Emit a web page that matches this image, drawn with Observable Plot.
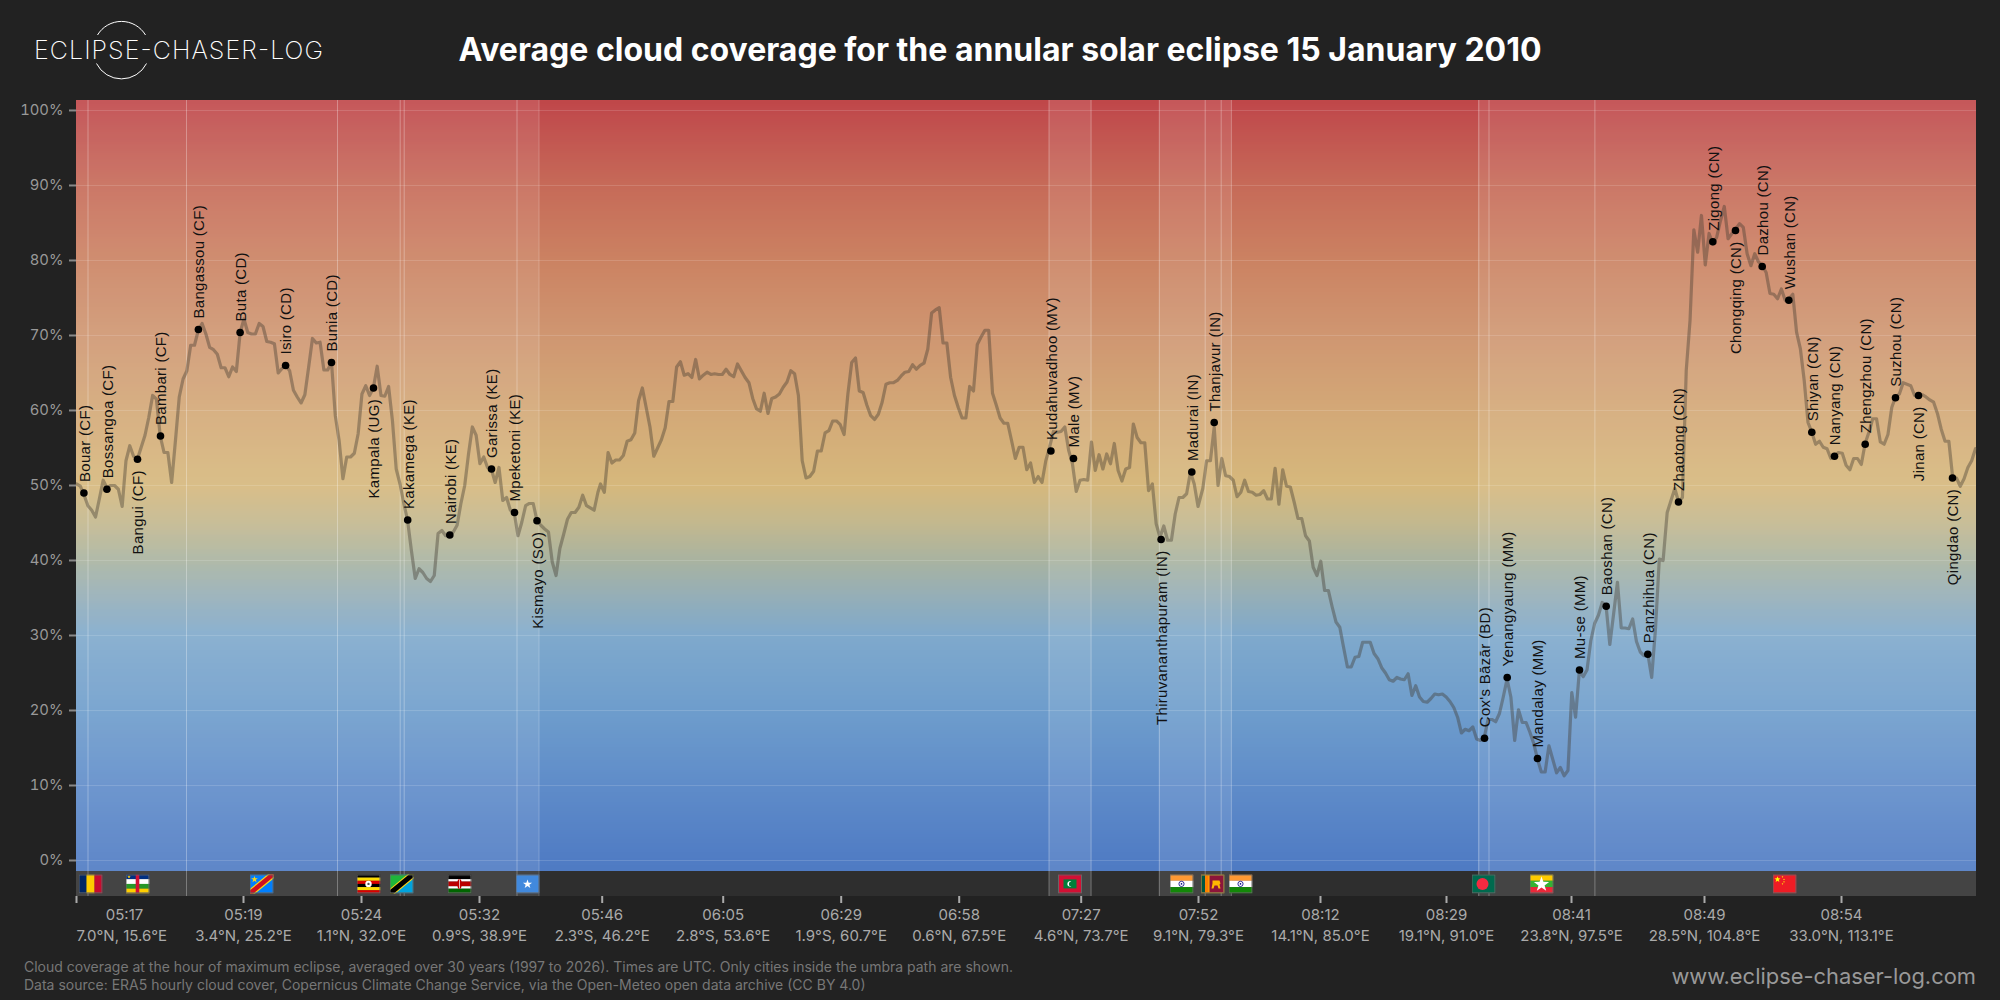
<!DOCTYPE html>
<html><head><meta charset="utf-8">
<script src="https://cdn.jsdelivr.net/npm/d3@7"></script>
<script src="https://cdn.jsdelivr.net/npm/@observablehq/plot@0.6"></script>
<style>
html,body{margin:0;background:#222;}
#page{position:relative;width:2000px;height:1000px;overflow:hidden;background:#222;font-family:Inter,sans-serif;}
#title{position:absolute;left:0;width:2000px;top:30px;text-align:center;color:#fff;font-weight:700;font-size:32px;line-height:40px;}
#logo{position:absolute;left:0;top:0;}
#chart{position:absolute;left:0;top:100px;}
#chart g[font-family="Liberation Sans"] text{letter-spacing:.3px;}
#note{position:absolute;left:24px;top:958px;color:#777;font-size:14px;line-height:18.3px;}
#site{position:absolute;right:24px;top:961px;color:#999;font-size:21.9px;line-height:30px;}
</style></head><body>
<div id="page">
<svg id="logo" width="400" height="100">
<path d="M97.5 35 A28 28 0 0 1 145.5 35 M96.5 63.5 A28 28 0 0 0 146.5 63.5" fill="none" stroke="#fff" stroke-width="1"/>
<text x="34" y="59" fill="#fff" font-family="Inter" font-weight="200" font-size="25" textLength="289">ECLIPSE-CHASER-LOG</text>
</svg>
<div id="title">Average cloud coverage for the annular solar eclipse 15 January 2010</div>
<div id="chart"></div>
<div id="note">Cloud coverage at the hour of maximum eclipse, averaged over 30 years (1997 to 2026). Times are UTC. Only cities inside the umbra path are shown.<br>Data source: ERA5 hourly cloud cover, Copernicus Climate Change Service, via the Open-Meteo open data archive (CC BY 4.0)</div>
<div id="site">www.eclipse-chaser-log.com</div>
</div>
<script>
// Cloud cover (%) sampled along the path; path position runs 0..1900.
const sampleStep = 3.806;
const cloudAfrica = [50.2,49.9,48.7,47.3,46.7,45.8,48.2,50.7,49.7,50.0,
50.0,49.5,47.2,53.3,55.3,53.9,53.5,55.1,56.7,59.1,
62.0,61.5,56.6,54.4,54.4,50.4,56,61.8,64.2,65.3,
68.7,68.7,70.7,71.6,70.2,68.4,68.1,67.5,65.7,65.7,
64.5,65.8,65.2,70.4,72.2,70.4,70.2,70.2,71.6,71.2,
69.2,69.1,68.9,65,65.6,66,65.3,62.7,61.8,61,
62.1,65.8,69.6,69,69.1,65.4,65.4,66.4,59.3,56,
50.9,53.8,53.8,54.3,56.9,62.2,63.3,62,63,65.9,
62,61.9,63.2,58.7,52.2,50.2,47.6,45.3,41.3,37.6,
38.9,38.4,37.6,37.2,38,43.6,44,43.3,43.4,43.8,
44.7,47.6,50,54.2,57.8,56.7,52.9,53.8,52.4,52.2,
50.4,52.4,48,48.4,46.7,46.4,43.3,45.1,47.3,47.6,
47.6,45.3,44.7,44.2,43.8,39.8,38,41.6,43.5,45.5,
46.4,46.4,47.1,48.7,47.3,47,46.7,49.1];
const cloudOcean = [50.2,49.1,54.4,53,53.4,53.4,54,55.9,56.1,57,61.3,63,60.4,57.8,53.9,55,56.1,57.7,61.2,61.2,
65.8,66.5,64.7,64.9,64.4,66.8,64.2,64.7,65.1,64.8,64.9,64.8,64.8,65.5,64.8,64.5,66.2,65.3,64.4,63.7,
61.6,60.2,59.9,62.3,59.6,61.6,61.8,62.2,63.1,63.8,65.3,64.9,62,53.3,51,51.2,51.9,54.6,54.6,57,
57.3,58.6,58.6,58.1,56.8,62.2,66.4,67,62.6,62.4,60.7,59.3,58.8,59.5,61.1,63.5,63.7,63.7,64,64.6,
65.1,65.2,66.1,65.5,66,66.3,68.2,73,73.4,73.7,69,69,64.4,62,60.4,59,59,63.2,62.6,68.8,
69.8,70.7,70.7,62.3,60.7,59,58.3,58.3,56,53.6,55.1,55.1,52.1,53,50.4,51.2,50.4,53.3,55.1,57.2,
57.1,57.2,57.8,54.7,52.9,49.2,50.7,50.8,50.7,55.8,52,54.1,52.2,54.2,52.9,55.6,52,50.6,52.2,52.4,
58.2,56.4,55.7,55.7,49.3,50.2,44.9,43.1,44.6,42.7,42.7,46.2,48.4,48.4,48.9,51.8,50.2,47.2];
const cloudIndia = [49.6,53.3,53.3,57.8,50,53.6,51.3,51.2,50.7,48.5,49.1,50.7,49.2,49.1,48.7,48.8,49.3,48.2,48.2,52.3,
47.5,52.1,49.9,49.8,47.8,45.6,45.6,43.3,42.6,39.1,38,39.9,36,36,33.8];
const cloudBay = [31.8,31.1,28.4,25.8,25.8,27.1,27.2,29.1,29.1,29.1,27.6,26.9,25.7,25,24.1,23.9,24.4];
const cloudMyanmar = [24.2,24.1,24.9,22,23.3,21.8,21.2,21.1,21.6,22.2,22.1,22.2,21.8,21.2,20.4,19.1,17,17.5,17.3,17.8,
16.2,16,16.4,18.8,18.8,18.5,19.6,21.8,24.2,21.8,16,20.1,18.4,18.4,17.1,15.6,13.5,11.8,11.8,15.3,
13.5,11.7,12.4,11.3,12,22.4,19.1,25.3,24.5,25.4,29.3,31.6,32.7,34.4,34,28.8,32.9,37.1,31,31,
30.9,32.2,29.2,27.8,27.3,27.5,24.4,30.9,40.2,40];
const cloudChina = [46.4,48,49.6,47.8,48.4,65.3,72,84.1,81.1,86,79.4,83.6,82.2,83.1,85.3,87.2,82.9,83.6,84.2,84.9,
84.4,80.9,79.3,80.9,79.8,79.3,78.4,75.6,75.5,74.9,76.2,74.7,74.9,75.5,70.4,68.2,64,58.4,57.1,55.5,
55.9,55.1,54.9,53.6,53.9,54.4,54.3,52.7,52.1,53.6,53.6,52.8,55.6,57.1,58.9,58.9,55.8,55.5,56.8,60.4,
61.8,62.2,63.7,63.5,63.3,62,62.1,62.1,61.8,61.4,61.1,59.6,57.5,55.9,55.9,51.1,51,49.9,50.9,52.4,53.3,54.9];
const sectionStarts = [0,524,1126.3,1259.5,1324,1590.7];
const sections = [cloudAfrica,cloudOcean,cloudIndia,cloudBay,cloudMyanmar,cloudChina];

const cityNames = ["Bouar (CF)","Bossangoa (CF)","Bangui (CF)","Bambari (CF)","Bangassou (CF)","Buta (CD)","Isiro (CD)","Bunia (CD)","Kampala (UG)","Kakamega (KE)","Nairobi (KE)","Garissa (KE)","Mpeketoni (KE)","Kismayo (SO)","Kudahuvadhoo (MV)","Male (MV)","Thiruvananthapuram (IN)","Madurai (IN)","Thanjavur (IN)","Cox's Bāzār (BD)","Yenangyaung (MM)","Mandalay (MM)","Mu-se (MM)","Baoshan (CN)","Panzhihua (CN)","Zhaotong (CN)","Zigong (CN)","Chongqing (CN)","Dazhou (CN)","Wushan (CN)","Shiyan (CN)","Nanyang (CN)","Zhengzhou (CN)","Suzhou (CN)","Jinan (CN)","Qingdao (CN)"];
const cityPos = [7.4,30.4,61,84,121.9,163.6,209.1,255,297,331.2,373.3,415,438,460.5,974.4,997,1084.6,1115.3,1137.7,1408,1430.7,1461,1503,1529.7,1571.3,1602,1636.3,1659,1685.7,1712.3,1735.3,1758,1788.7,1819,1842,1876];
const cityCloud = [49,49.5,53.5,56.6,70.8,70.4,66,66.4,63,45.4,43.4,52.2,46.4,45.3,54.6,53.6,42.8,51.8,58.4,16.3,24.4,13.6,25.4,33.9,27.5,47.8,82.5,84,79.2,74.7,57.1,53.9,55.5,61.7,62,51];
const labelsBelow = ["Bangui (CF)","Kampala (UG)","Kismayo (SO)","Thiruvananthapuram (IN)","Chongqing (CN)","Jinan (CN)","Qingdao (CN)"];

const borderPos = [11.5,110,261,323.7,327.7,440.5,462.4,972.5,1014.6,1082.8,1128.7,1144.7,1154.9,1402.3,1412.5,1518.4];
const landFrom = [0,972.5,1082.8,1402.3];
const landTo = [462.4,1014.6,1154.9,1900];

const tickPos = [0,167,285,403,525.7,646.7,764.7,882.7,1004.7,1122,1244,1370,1495,1628,1765];
const tickTimes = ["05:17","05:19","05:24","05:32","05:46","06:05","06:29","06:58","07:27","07:52","08:12","08:29","08:41","08:49","08:54"];
const tickCoords = ["7.0°N, 15.6°E","3.4°N, 25.2°E","1.1°N, 32.0°E","0.9°S, 38.9°E","2.3°S, 46.2°E","2.8°S, 53.6°E","1.9°S, 60.7°E","0.6°N, 67.5°E","4.6°N, 73.7°E","9.1°N, 79.3°E","14.1°N, 85.0°E","19.1°N, 91.0°E","23.8°N, 97.5°E","28.5°N, 104.8°E","33.0°N, 113.1°E"];

const gradStops = [-1.5,0,10,20,30,35,40,45,50,60,70,80,90,100,101.4];
const gradColors = ["#4f7bc3","#507cc4","#5f8cc9","#6e9dcc","#7fa9cc","#94aeb8","#a9b3a0","#c3b88e","#d6b87c","#d3a877","#cf9671","#cb8262","#c66a58","#c04a4c","#bf4648"];
const yPercents = [0,10,20,30,40,50,60,70,80,90,100];

const star = (cx,cy,r,fill) => {const p=[];for(let i=0;i<10;i++){const a=-Math.PI/2+i*Math.PI/5,q=i%2?r*0.4:r;p.push((cx+q*Math.cos(a)).toFixed(2)+","+(cy+q*Math.sin(a)).toFixed(2));}return `<polygon points="${p.join(" ")}" fill="${fill}"/>`;};
const hb = (cols) => cols.map((c,i)=>`<rect x="0" y="${i*19/cols.length}" width="24" height="${19/cols.length+0.1}" fill="${c}"/>`).join("");
const vb = (cols) => cols.map((c,i)=>`<rect y="0" x="${i*24/cols.length}" height="19" width="${24/cols.length+0.1}" fill="${c}"/>`).join("");
const flagArt = {
 td: vb(["#002664","#fecb00","#c60c30"]),
 cf: hb(["#003082","#fff","#289728","#ffce00"])+`<rect x="10.2" width="3.6" height="19" fill="#d21034"/>`+star(3.5,2.4,1.9,"#ffce00"),
 cd: `<rect width="24" height="19" fill="#007fff"/><path d="M-2 21 L26 -2" stroke="#f7d618" stroke-width="7"/><path d="M-2 21 L26 -2" stroke="#ce1021" stroke-width="4.6"/>`+star(5,5,3.5,"#f7d618"),
 ug: hb(["#000","#fcdc04","#d90000","#000","#fcdc04","#d90000"])+`<circle cx="12" cy="9.5" r="3.2" fill="#fff"/><circle cx="12" cy="9.5" r="1.2" fill="#555"/>`,
 tz: `<rect width="24" height="19" fill="#00a3dd"/><path d="M0 0H24L0 19Z" fill="#1eb53a"/><path d="M-2 21 L26 -2" stroke="#fcd116" stroke-width="7.2"/><path d="M-2 21 L26 -2" stroke="#000" stroke-width="5"/>`,
 ke: hb(["#000","#000","#fff","#bb0000","#bb0000","#fff","#060","#060"])+`<ellipse cx="12" cy="9.5" rx="2.2" ry="5" fill="#bb0000"/><path d="M12 5v9" stroke="#fff" stroke-width=".7"/>`,
 so: `<rect width="24" height="19" fill="#4189dd"/>`+star(12,9.8,4.8,"#fff"),
 mv: `<rect width="24" height="19" fill="#d21034"/><rect x="5.5" y="5" width="13" height="9" fill="#007e3a"/><path d="M13.4 7a2.8 2.8 0 1 0 0 5 a2.4 2.4 0 1 1 0-5" fill="#fff"/>`,
 in: hb(["#ff9933","#fff","#138808"])+`<circle cx="12" cy="9.5" r="2.6" fill="none" stroke="#000080" stroke-width=".8"/><circle cx="12" cy="9.5" r=".8" fill="#000080"/>`,
 lk: `<rect width="24" height="19" fill="#ffb700"/><rect x="1" y="1" width="3.5" height="17" fill="#005641"/><rect x="4.5" y="1" width="3.5" height="17" fill="#ff7e00"/><rect x="9" y="1" width="14" height="17" fill="#8d153a"/><path d="M12 6h7l1 3-1 1 1 4h-2l-1-3h-3l-1 3h-2l1-5z" fill="#ffb700"/>`,
 bd: `<rect width="24" height="19" fill="#006a4e"/><circle cx="11" cy="9.5" r="6" fill="#f42a41"/>`,
 mm: hb(["#fecb00","#34b233","#ea2839"])+star(12,10,8,"#fff"),
 cn: `<rect width="24" height="19" fill="#ee1c25"/>`+star(5,5,3.2,"#ffff00")+star(10,2.5,1,"#ffff00")+star(11.5,5,1,"#ffff00")+star(11.5,7.5,1,"#ffff00")+star(10,9.5,1,"#ffff00"),
};
const flagCodes = ["td","cf","cd","ug","tz","ke","so","mv","in","lk","in","bd","mm","cn"];
const flagPos = [14,61,185,292,325,383,451,993.5,1105,1136,1164,1407,1465,1708];
const flagUri = c => "data:image/svg+xml;charset=utf-8," + encodeURIComponent(`<svg xmlns="http://www.w3.org/2000/svg" width="96" height="76" viewBox="0 0 24 19">${flagArt[c]}<rect x=".5" y=".5" width="23" height="18" fill="none" stroke="#666" stroke-width="1"/></svg>`);

// tables
const linePoints = sections.flatMap((vals,s)=>vals.map((v,i)=>({pos:sectionStarts[s]+i*sampleStep,cloud:v})));
const cities = cityNames.map((name,i)=>({name,pos:cityPos[i],cloud:cityCloud[i]}));
const citiesUp = cities.filter(c=>!labelsBelow.includes(c.name));
const citiesDown = cities.filter(c=>labelsBelow.includes(c.name));
const flags = flagCodes.map((c,i)=>({pos:flagPos[i],src:flagUri(c)}));
const ticks = tickPos.map((pos,i)=>({pos,time:tickTimes[i],coord:tickCoords[i]}));
const lands = landFrom.map((a,i)=>({a,b:landTo[i]}));
const yTop = 101.33, yBandTop = -1.47, yBottom = -4.8;
const rows = d3.range(yBandTop,yTop,0.25).map(lo=>({lo,hi:Math.min(lo+0.25,yTop),mid:lo+0.125}));

const chart = Plot.plot({
  width:2000,height:900,marginLeft:76,marginRight:24,marginTop:0,marginBottom:104,
  style:{background:"transparent",color:"#aaa",fontFamily:"Inter",fontSize:"15px",overflow:"visible"},
  x:{domain:[0,1900],axis:null},
  y:{domain:[yBottom,yTop],axis:null},
  color:{type:"linear",domain:gradStops,range:gradColors,interpolate:"rgb"},
  marks:[
    Plot.rect(rows,{x1:()=>0,x2:()=>1900,y1:"lo",y2:"hi",fill:"mid",shapeRendering:"crispEdges"}),
    Plot.rect(lands,{x1:"a",x2:"b",y1:()=>yBandTop,y2:()=>yTop,fill:"#fff",fillOpacity:0.095,shapeRendering:"crispEdges"}),
    Plot.rect([{a:0,b:1900}],{x1:"a",x2:"b",y1:()=>yBottom,y2:()=>yBandTop,fill:"#2e2e2e",shapeRendering:"crispEdges"}),
    Plot.rect(lands,{x1:"a",x2:"b",y1:()=>yBottom,y2:()=>yBandTop,fill:"#444",shapeRendering:"crispEdges"}),
    Plot.ruleY(yPercents,{stroke:"#fff",strokeOpacity:0.15,strokeWidth:1}),
    Plot.ruleX(borderPos,{y1:()=>yBottom,y2:()=>yTop,stroke:"#fff",strokeOpacity:0.3,strokeWidth:1}),
    Plot.line(linePoints,{x:"pos",y:"cloud",stroke:"#403a30",strokeOpacity:0.4,strokeWidth:3.2,strokeLinejoin:"round"}),
    Plot.dot(cities,{x:"pos",y:"cloud",r:3.8,fill:"#000"}),
    Plot.text(citiesUp,{x:"pos",y:"cloud",text:"name",rotate:-90,textAnchor:"start",lineAnchor:"middle",dy:-11,dx:1,fill:"#111",fontFamily:"Liberation Sans",fontSize:15}),
    Plot.text(citiesDown,{x:"pos",y:"cloud",text:"name",rotate:-90,textAnchor:"end",lineAnchor:"middle",dy:11,dx:1,fill:"#111",fontFamily:"Liberation Sans",fontSize:15}),
    Plot.image(flags,{x:"pos",frameAnchor:"bottom",dy:-12.6,src:"src",width:24,height:19,preserveAspectRatio:"none"}),
    Plot.axisY({ticks:yPercents,tickFormat:d=>d+"%",tickSize:7,tickPadding:6,stroke:"#888",strokeWidth:2,fill:"#999",label:null,fontSize:14.8}),
    Plot.axisX({ticks:tickPos,tickFormat:()=>"",tickSize:7,tickPadding:0,stroke:"#aaa",strokeWidth:2,label:null}),
    Plot.text(ticks.slice(1),{x:"pos",text:"time",frameAnchor:"bottom",dy:19,lineAnchor:"middle",fill:"#aaa",fontSize:15}),
    Plot.text(ticks.slice(1),{x:"pos",text:"coord",frameAnchor:"bottom",dy:40,lineAnchor:"middle",fill:"#aaa",fontSize:15}),
    Plot.text(ticks.slice(0,1),{x:"pos",text:"time",frameAnchor:"bottom",dx:48,dy:19,lineAnchor:"middle",fill:"#aaa",fontSize:15}),
    Plot.text(ticks.slice(0,1),{x:"pos",text:"coord",frameAnchor:"bottom",dy:40,lineAnchor:"middle",textAnchor:"start",fill:"#aaa",fontSize:15})
  ]
});
document.getElementById("chart").appendChild(chart);
</script>
</body></html>
